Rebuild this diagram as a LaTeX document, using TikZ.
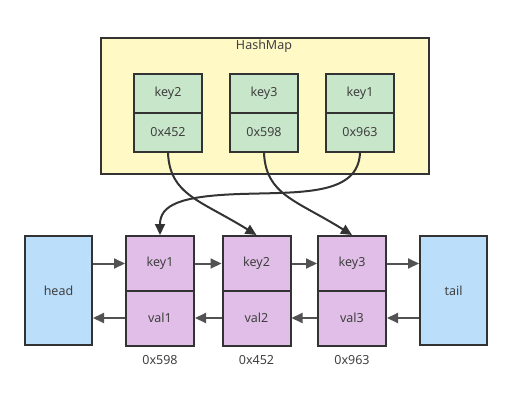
\documentclass[tikz,border=0pt]{standalone}
\usepackage{fontspec}
\setmainfont{Noto Sans}
\usetikzlibrary{arrows.meta}
\definecolor{bord}{HTML}{333333}
\definecolor{txt}{HTML}{404040}
\definecolor{ymap}{HTML}{FFF9C6}
\definecolor{gcell}{HTML}{C8E6C9}
\definecolor{pcell}{HTML}{E1BEE7}
\definecolor{bcell}{HTML}{BBDEFB}
\tikzset{
  cell/.style={draw=bord, line width=2pt, rectangle, inner sep=0pt, text=txt, font=\fontsize{12.5}{14}\selectfont},
  gbox/.style={cell, fill=gcell, minimum width=68pt, minimum height=39pt},
  pbox/.style={cell, fill=pcell, minimum width=68pt, minimum height=55pt},
  ebox/.style={cell, fill=bcell, minimum width=67pt, minimum height=109pt},
  addr/.style={text=txt, inner sep=0pt, font=\fontsize{12.5}{14}\selectfont},
  link/.style={draw=bord, line width=2pt, -{Triangle[length=11pt,width=10pt]}},
  hlink/.style={draw=bord!85!white, line width=2pt, -{Triangle[length=11pt,width=10pt]}},
}
\begin{document}
\begin{tikzpicture}[x=1pt,y=-1pt]
\useasboundingbox (0,0) rectangle (512,405);
% HashMap container
\node[cell, fill=ymap, minimum width=328pt, minimum height=136pt, anchor=north west] (map) at (100,37) {};
\node[addr] (maptitle) at (264,46) {HashMap};
% green entries
\node[gbox] (hk2) at (168,93.5) {key2};
\node[gbox] (ha2) at (168,132.5) {0x452};
\node[gbox] (hk3) at (264,93.5) {key3};
\node[gbox] (ha3) at (264,132.5) {0x598};
\node[gbox] (hk1) at (360,93.5) {key1};
\node[gbox] (ha1) at (360,132.5) {0x963};
% list
\node[ebox] (head) at (58.5,290.5) {head};
\node[ebox] (tail) at (453.5,290.5) {tail};
\node[pbox] (k1) at (160,263.5) {key1};
\node[pbox] (v1) at (160,318) {val1};
\node[pbox] (k2) at (256.5,263.5) {key2};
\node[pbox] (v2) at (256.5,318) {val2};
\node[pbox] (k3) at (352,263.5) {key3};
\node[pbox] (v3) at (352,318) {val3};
\node[addr] (a1) at (160,360) {0x598};
\node[addr] (a2) at (256.5,360) {0x452};
\node[addr] (a3) at (352,360) {0x963};
% horizontal links
\draw[hlink] (head.east |- k1) -- (k1.west);
\draw[hlink] (k1.east) -- (k2.west);
\draw[hlink] (k2.east) -- (k3.west);
\draw[hlink] (k3.east) -- (tail.west |- k3);
\draw[hlink] (tail.west |- v3) -- (v3.east);
\draw[hlink] (v3.west) -- (v2.east);
\draw[hlink] (v2.west) -- (v1.east);
\draw[hlink] (v1.west) -- (head.east |- v1);
% curved links
\draw[link] (ha2.south) .. controls (170,195) and (200,200) .. (k2.north);
\draw[link] (ha3.south) .. controls (266,195) and (296,200) .. (k3.north);
\draw[link] (ha1.south) .. controls (358,196) and (300,192) .. (240,194) .. controls (180,196) and (160,205) .. (k1.north);
\end{tikzpicture}
\end{document}
